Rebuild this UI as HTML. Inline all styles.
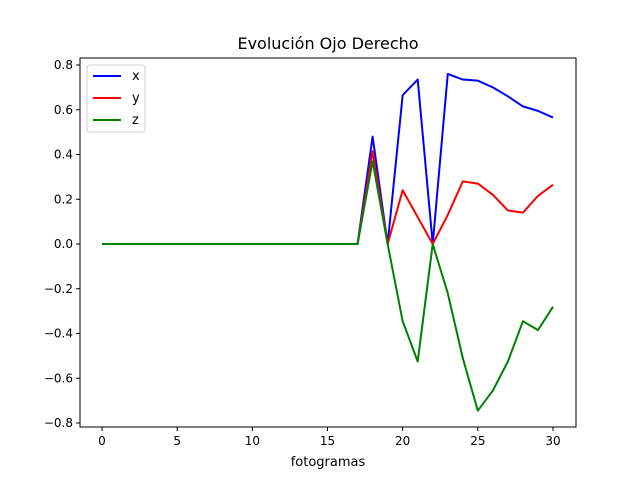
<!DOCTYPE html>
<html><head><meta charset="utf-8"><style>body{margin:0;background:#fff}svg{display:block;font-family:"DejaVu Sans","Liberation Sans",sans-serif}</style></head>
<body>
<svg id="c" width="640" height="480"></svg>
<script>
const frames = Array.from({length:31},(_,i)=>i);
const seriesX = [0,0,0,0,0,0,0,0,0,0,0,0,0,0,0,0,0,0,0.48,0,0.665,0.735,0,0.76,0.735,0.73,0.70,0.66,0.615,0.595,0.565];
const seriesY = [0,0,0,0,0,0,0,0,0,0,0,0,0,0,0,0,0,0,0.415,0,0.24,0.12,0,0.13,0.28,0.27,0.22,0.15,0.14,0.215,0.265];
const seriesZ = [0,0,0,0,0,0,0,0,0,0,0,0,0,0,0,0,0,0,0.37,0,-0.345,-0.525,0,-0.22,-0.51,-0.745,-0.655,-0.525,-0.345,-0.385,-0.28];
const xTicks = [0,5,10,15,20,25,30];
const yTicks = [-0.8,-0.6,-0.4,-0.2,0.0,0.2,0.4,0.6,0.8];
const svg=document.getElementById('c');const NS='http://www.w3.org/2000/svg';
const L=80,R=576,T=58,B=427;
const sx=v=>102+(v-0)*(553-102)/30;
const sy=v=>244-v*223.75;
function el(t,a,p){const e=document.createElementNS(NS,t);for(const k in a)e.setAttribute(k,a[k]);(p||svg).appendChild(e);return e;}
const title=el('text',{x:328,y:49,'text-anchor':'middle','font-size':16,fill:'#000'});title.textContent='Evolución Ojo Derecho';


xTicks.forEach(v=>{const g=el('g',{});


el('line',{x1:sx(v),x2:sx(v),y1:B,y2:B+4,stroke:'#000'},g);
const t=el('text',{x:sx(v),y:B+18,'text-anchor':'middle','font-size':12},g);t.textContent=v;});
yTicks.forEach(v=>{const g=el('g',{});


el('line',{x1:L-4,x2:L,y1:sy(v),y2:sy(v),stroke:'#000'},g);
const t=el('text',{x:L-7,y:sy(v)+4,'text-anchor':'end','font-size':12},g);t.textContent=v.toFixed(1).replace('-','−');});
const xl=el('text',{x:328,y:466,'text-anchor':'middle','font-size':13});xl.textContent='fotogramas';


[[seriesX,'#0000ff','series-x'],[seriesY,'#ff0000','series-y'],[seriesZ,'#008000','series-z']].forEach(([d,c,n])=>{
const p=el('polyline',{points:d.map((v,i)=>sx(frames[i])+','+sy(v)).join(' '),fill:'none',stroke:c,'stroke-width':2,'stroke-linejoin':'round'});

});
const frame=el('rect',{x:L,y:T,width:R-L,height:B-T,fill:'none',stroke:'#000','stroke-width':1});


const lg=el('g',{});


el('rect',{x:87,y:65,width:58,height:67,rx:3,fill:'#fff',stroke:'#ccc'},lg);
[['x','#0000ff'],['y','#ff0000'],['z','#008000']].forEach(([n,c],i)=>{const yy=76+i*22;
el('line',{x1:93,x2:121,y1:yy,y2:yy,stroke:c,'stroke-width':2},lg);
const t=el('text',{x:132,y:yy+4,'font-size':13},lg);t.textContent=n;});
</script>
</body></html>
